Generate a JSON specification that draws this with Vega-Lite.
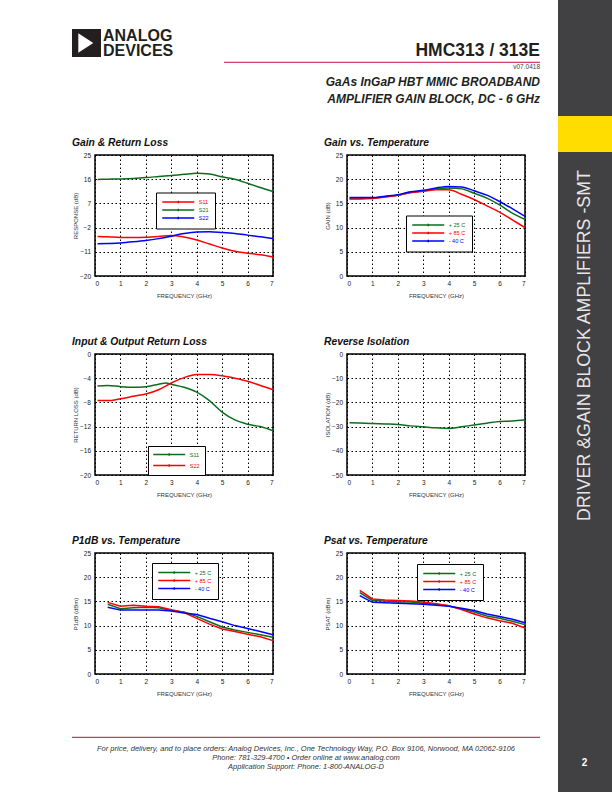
{
  "$schema": "https://vega.github.io/schema/vega-lite/v6.json",
  "padding": 0,
  "autosize": {"type": "pad"},
  "background": "white",
  "config": {
    "font": "Liberation Sans",
    "view": {"stroke": null},
    "axis": {
      "grid": true, "gridColor": "#000000", "gridDash": [1.5, 2.5], "gridWidth": 1, "gridOpacity": 1,
      "domain": false, "ticks": false, "tickSize": 0,
      "labelFont": "Liberation Sans", "labelFontSize": 6.5, "labelColor": "#222222", "labelPadding": 4.5,
      "titleFont": "Liberation Sans", "titleFontSize": 6, "titleFontWeight": "normal", "titleColor": "#333333"
    },
    "axisX": {"titleY": 19.5, "titleBaseline": "middle"},
    "axisY": {"titleX": -20, "titleBaseline": "middle"},
    "title": {"anchor": "start", "frame": "group", "dx": -23, "fontSize": 10.3, "fontWeight": "bold", "fontStyle": "italic", "color": "#111111", "offset": 4, "baseline": "alphabetic"},
    "legend": {
      "orient": "none", "title": null, "direction": "vertical",
      "symbolType": "M-6.4,0H6.4M0,-0.5V0.5", "symbolSize": 25, "symbolStrokeWidth": 1.5,
      "symbolOffset": 12.75, "labelOffset": 17, "labelFontSize": 5.5, "labelFont": "Liberation Sans",
      "rowPadding": -4.8, "padding": 6, "fillColor": "white", "strokeColor": "black"
    }
  },
  "datasets": {
    "gain_rl": [
      {"freq": 0.1, "db": -5.3, "trace": "S11"}, {"freq": 0.5, "db": -5.4, "trace": "S11"}, {"freq": 1, "db": -5.7, "trace": "S11"}, {"freq": 1.5, "db": -5.7, "trace": "S11"}, {"freq": 2, "db": -5.6, "trace": "S11"}, {"freq": 2.5, "db": -5.3, "trace": "S11"}, {"freq": 3, "db": -4.9, "trace": "S11"}, {"freq": 3.5, "db": -5.5, "trace": "S11"}, {"freq": 4, "db": -6.6, "trace": "S11"}, {"freq": 4.5, "db": -8.1, "trace": "S11"}, {"freq": 5, "db": -9.6, "trace": "S11"}, {"freq": 5.5, "db": -10.8, "trace": "S11"}, {"freq": 6, "db": -11.5, "trace": "S11"}, {"freq": 6.5, "db": -12.1, "trace": "S11"}, {"freq": 7, "db": -12.9, "trace": "S11"},
      {"freq": 0.1, "db": 15.9, "trace": "S21"}, {"freq": 0.5, "db": 16.0, "trace": "S21"}, {"freq": 1, "db": 16.1, "trace": "S21"}, {"freq": 1.5, "db": 16.3, "trace": "S21"}, {"freq": 2, "db": 16.6, "trace": "S21"}, {"freq": 2.5, "db": 17.0, "trace": "S21"}, {"freq": 3, "db": 17.4, "trace": "S21"}, {"freq": 3.5, "db": 17.8, "trace": "S21"}, {"freq": 4, "db": 18.2, "trace": "S21"}, {"freq": 4.5, "db": 17.9, "trace": "S21"}, {"freq": 5, "db": 16.9, "trace": "S21"}, {"freq": 5.5, "db": 16.0, "trace": "S21"}, {"freq": 6, "db": 14.5, "trace": "S21"}, {"freq": 6.5, "db": 12.9, "trace": "S21"}, {"freq": 7, "db": 11.4, "trace": "S21"},
      {"freq": 0.1, "db": -8.0, "trace": "S22"}, {"freq": 0.5, "db": -7.9, "trace": "S22"}, {"freq": 1, "db": -7.7, "trace": "S22"}, {"freq": 1.5, "db": -7.3, "trace": "S22"}, {"freq": 2, "db": -6.8, "trace": "S22"}, {"freq": 2.5, "db": -6.1, "trace": "S22"}, {"freq": 3, "db": -5.2, "trace": "S22"}, {"freq": 3.5, "db": -4.2, "trace": "S22"}, {"freq": 4, "db": -3.6, "trace": "S22"}, {"freq": 4.5, "db": -3.5, "trace": "S22"}, {"freq": 5, "db": -3.8, "trace": "S22"}, {"freq": 5.5, "db": -4.2, "trace": "S22"}, {"freq": 6, "db": -4.8, "trace": "S22"}, {"freq": 6.5, "db": -5.4, "trace": "S22"}, {"freq": 7, "db": -6.1, "trace": "S22"}
    ],
    "gain_temp": [
      {"freq": 0.1, "db": 16.0, "trace": "+ 25 C"}, {"freq": 0.5, "db": 16.0, "trace": "+ 25 C"}, {"freq": 1, "db": 16.1, "trace": "+ 25 C"}, {"freq": 1.5, "db": 16.4, "trace": "+ 25 C"}, {"freq": 2, "db": 16.7, "trace": "+ 25 C"}, {"freq": 2.5, "db": 17.3, "trace": "+ 25 C"}, {"freq": 3, "db": 17.6, "trace": "+ 25 C"}, {"freq": 3.5, "db": 18.0, "trace": "+ 25 C"}, {"freq": 4, "db": 18.2, "trace": "+ 25 C"}, {"freq": 4.5, "db": 18.0, "trace": "+ 25 C"}, {"freq": 5, "db": 17.1, "trace": "+ 25 C"}, {"freq": 5.5, "db": 16.1, "trace": "+ 25 C"}, {"freq": 6, "db": 14.7, "trace": "+ 25 C"}, {"freq": 6.5, "db": 13.0, "trace": "+ 25 C"}, {"freq": 7, "db": 11.7, "trace": "+ 25 C"},
      {"freq": 0.1, "db": 15.9, "trace": "+ 85 C"}, {"freq": 0.5, "db": 15.9, "trace": "+ 85 C"}, {"freq": 1, "db": 16.0, "trace": "+ 85 C"}, {"freq": 1.5, "db": 16.3, "trace": "+ 85 C"}, {"freq": 2, "db": 16.7, "trace": "+ 85 C"}, {"freq": 2.5, "db": 17.2, "trace": "+ 85 C"}, {"freq": 3, "db": 17.5, "trace": "+ 85 C"}, {"freq": 3.5, "db": 17.8, "trace": "+ 85 C"}, {"freq": 4, "db": 17.8, "trace": "+ 85 C"}, {"freq": 4.5, "db": 16.9, "trace": "+ 85 C"}, {"freq": 5, "db": 15.8, "trace": "+ 85 C"}, {"freq": 5.5, "db": 14.5, "trace": "+ 85 C"}, {"freq": 6, "db": 13.2, "trace": "+ 85 C"}, {"freq": 6.5, "db": 11.6, "trace": "+ 85 C"}, {"freq": 7, "db": 10.0, "trace": "+ 85 C"},
      {"freq": 0.1, "db": 16.2, "trace": "- 40 C"}, {"freq": 0.5, "db": 16.2, "trace": "- 40 C"}, {"freq": 1, "db": 16.2, "trace": "- 40 C"}, {"freq": 1.5, "db": 16.5, "trace": "- 40 C"}, {"freq": 2, "db": 16.8, "trace": "- 40 C"}, {"freq": 2.5, "db": 17.4, "trace": "- 40 C"}, {"freq": 3, "db": 17.7, "trace": "- 40 C"}, {"freq": 3.5, "db": 18.2, "trace": "- 40 C"}, {"freq": 4, "db": 18.5, "trace": "- 40 C"}, {"freq": 4.5, "db": 18.4, "trace": "- 40 C"}, {"freq": 5, "db": 17.6, "trace": "- 40 C"}, {"freq": 5.5, "db": 16.7, "trace": "- 40 C"}, {"freq": 6, "db": 15.4, "trace": "- 40 C"}, {"freq": 6.5, "db": 13.9, "trace": "- 40 C"}, {"freq": 7, "db": 12.3, "trace": "- 40 C"}
    ],
    "return_loss": [
      {"freq": 0.1, "db": -5.3, "trace": "S11"}, {"freq": 0.5, "db": -5.2, "trace": "S11"}, {"freq": 1, "db": -5.4, "trace": "S11"}, {"freq": 1.5, "db": -5.5, "trace": "S11"}, {"freq": 2, "db": -5.4, "trace": "S11"}, {"freq": 2.5, "db": -5.0, "trace": "S11"}, {"freq": 2.8, "db": -4.8, "trace": "S11"}, {"freq": 3, "db": -5.0, "trace": "S11"}, {"freq": 3.5, "db": -5.5, "trace": "S11"}, {"freq": 4, "db": -6.3, "trace": "S11"}, {"freq": 4.5, "db": -7.7, "trace": "S11"}, {"freq": 5, "db": -9.6, "trace": "S11"}, {"freq": 5.5, "db": -10.9, "trace": "S11"}, {"freq": 6, "db": -11.6, "trace": "S11"}, {"freq": 6.5, "db": -12.0, "trace": "S11"}, {"freq": 7, "db": -12.7, "trace": "S11"},
      {"freq": 0.1, "db": -7.7, "trace": "S22"}, {"freq": 0.5, "db": -7.7, "trace": "S22"}, {"freq": 1, "db": -7.4, "trace": "S22"}, {"freq": 1.5, "db": -7.0, "trace": "S22"}, {"freq": 2, "db": -6.6, "trace": "S22"}, {"freq": 2.5, "db": -5.9, "trace": "S22"}, {"freq": 3, "db": -4.8, "trace": "S22"}, {"freq": 3.5, "db": -3.9, "trace": "S22"}, {"freq": 4, "db": -3.4, "trace": "S22"}, {"freq": 4.5, "db": -3.4, "trace": "S22"}, {"freq": 5, "db": -3.6, "trace": "S22"}, {"freq": 5.5, "db": -4.0, "trace": "S22"}, {"freq": 6, "db": -4.5, "trace": "S22"}, {"freq": 6.5, "db": -5.2, "trace": "S22"}, {"freq": 7, "db": -5.9, "trace": "S22"}
    ],
    "isolation": [
      {"freq": 0.1, "db": -28.4}, {"freq": 0.5, "db": -28.5}, {"freq": 1, "db": -28.7}, {"freq": 1.5, "db": -28.9}, {"freq": 2, "db": -29.1}, {"freq": 2.5, "db": -29.7}, {"freq": 3, "db": -30.1}, {"freq": 3.5, "db": -30.5}, {"freq": 4, "db": -30.8}, {"freq": 4.5, "db": -30.1}, {"freq": 5, "db": -29.3}, {"freq": 5.5, "db": -28.6}, {"freq": 6, "db": -27.9}, {"freq": 6.5, "db": -27.7}, {"freq": 7, "db": -27.2}
    ],
    "p1db": [
      {"freq": 0.5, "dbm": 14.4, "trace": "+ 25 C"}, {"freq": 1, "dbm": 13.5, "trace": "+ 25 C"}, {"freq": 1.5, "dbm": 13.7, "trace": "+ 25 C"}, {"freq": 2, "dbm": 13.8, "trace": "+ 25 C"}, {"freq": 2.5, "dbm": 13.7, "trace": "+ 25 C"}, {"freq": 3, "dbm": 13.1, "trace": "+ 25 C"}, {"freq": 3.5, "dbm": 12.8, "trace": "+ 25 C"}, {"freq": 4, "dbm": 11.9, "trace": "+ 25 C"}, {"freq": 4.5, "dbm": 10.8, "trace": "+ 25 C"}, {"freq": 5, "dbm": 9.7, "trace": "+ 25 C"}, {"freq": 5.5, "dbm": 9.1, "trace": "+ 25 C"}, {"freq": 6, "dbm": 8.6, "trace": "+ 25 C"}, {"freq": 6.5, "dbm": 8.1, "trace": "+ 25 C"}, {"freq": 7, "dbm": 7.6, "trace": "+ 25 C"},
      {"freq": 0.5, "dbm": 14.8, "trace": "+ 85 C"}, {"freq": 1, "dbm": 14.0, "trace": "+ 85 C"}, {"freq": 1.5, "dbm": 14.2, "trace": "+ 85 C"}, {"freq": 2, "dbm": 14.0, "trace": "+ 85 C"}, {"freq": 2.5, "dbm": 13.9, "trace": "+ 85 C"}, {"freq": 3, "dbm": 13.3, "trace": "+ 85 C"}, {"freq": 3.5, "dbm": 12.7, "trace": "+ 85 C"}, {"freq": 4, "dbm": 11.5, "trace": "+ 85 C"}, {"freq": 4.5, "dbm": 10.3, "trace": "+ 85 C"}, {"freq": 5, "dbm": 9.3, "trace": "+ 85 C"}, {"freq": 5.5, "dbm": 8.8, "trace": "+ 85 C"}, {"freq": 6, "dbm": 8.2, "trace": "+ 85 C"}, {"freq": 6.5, "dbm": 7.7, "trace": "+ 85 C"}, {"freq": 7, "dbm": 6.9, "trace": "+ 85 C"},
      {"freq": 0.5, "dbm": 13.8, "trace": "- 40 C"}, {"freq": 1, "dbm": 13.2, "trace": "- 40 C"}, {"freq": 1.5, "dbm": 13.2, "trace": "- 40 C"}, {"freq": 2, "dbm": 13.2, "trace": "- 40 C"}, {"freq": 2.5, "dbm": 13.2, "trace": "- 40 C"}, {"freq": 3, "dbm": 13.0, "trace": "- 40 C"}, {"freq": 3.5, "dbm": 12.6, "trace": "- 40 C"}, {"freq": 4, "dbm": 12.3, "trace": "- 40 C"}, {"freq": 4.5, "dbm": 11.5, "trace": "- 40 C"}, {"freq": 5, "dbm": 10.8, "trace": "- 40 C"}, {"freq": 5.5, "dbm": 10.0, "trace": "- 40 C"}, {"freq": 6, "dbm": 9.4, "trace": "- 40 C"}, {"freq": 6.5, "dbm": 8.8, "trace": "- 40 C"}, {"freq": 7, "dbm": 8.1, "trace": "- 40 C"}
    ],
    "psat": [
      {"freq": 0.5, "dbm": 16.8, "trace": "+ 25 C"}, {"freq": 1, "dbm": 15.2, "trace": "+ 25 C"}, {"freq": 1.5, "dbm": 15.1, "trace": "+ 25 C"}, {"freq": 2, "dbm": 14.9, "trace": "+ 25 C"}, {"freq": 2.5, "dbm": 14.9, "trace": "+ 25 C"}, {"freq": 3, "dbm": 14.6, "trace": "+ 25 C"}, {"freq": 3.5, "dbm": 14.4, "trace": "+ 25 C"}, {"freq": 4, "dbm": 14.1, "trace": "+ 25 C"}, {"freq": 4.5, "dbm": 13.4, "trace": "+ 25 C"}, {"freq": 5, "dbm": 12.8, "trace": "+ 25 C"}, {"freq": 5.5, "dbm": 12.0, "trace": "+ 25 C"}, {"freq": 6, "dbm": 11.5, "trace": "+ 25 C"}, {"freq": 6.5, "dbm": 10.9, "trace": "+ 25 C"}, {"freq": 7, "dbm": 10.2, "trace": "+ 25 C"},
      {"freq": 0.5, "dbm": 17.3, "trace": "+ 85 C"}, {"freq": 1, "dbm": 15.5, "trace": "+ 85 C"}, {"freq": 1.5, "dbm": 15.3, "trace": "+ 85 C"}, {"freq": 2, "dbm": 15.2, "trace": "+ 85 C"}, {"freq": 2.5, "dbm": 15.1, "trace": "+ 85 C"}, {"freq": 3, "dbm": 14.9, "trace": "+ 85 C"}, {"freq": 3.5, "dbm": 14.5, "trace": "+ 85 C"}, {"freq": 4, "dbm": 14.1, "trace": "+ 85 C"}, {"freq": 4.5, "dbm": 13.3, "trace": "+ 85 C"}, {"freq": 5, "dbm": 12.4, "trace": "+ 85 C"}, {"freq": 5.5, "dbm": 11.6, "trace": "+ 85 C"}, {"freq": 6, "dbm": 11.0, "trace": "+ 85 C"}, {"freq": 6.5, "dbm": 10.5, "trace": "+ 85 C"}, {"freq": 7, "dbm": 9.5, "trace": "+ 85 C"},
      {"freq": 0.5, "dbm": 16.2, "trace": "- 40 C"}, {"freq": 1, "dbm": 14.8, "trace": "- 40 C"}, {"freq": 1.5, "dbm": 14.7, "trace": "- 40 C"}, {"freq": 2, "dbm": 14.6, "trace": "- 40 C"}, {"freq": 2.5, "dbm": 14.5, "trace": "- 40 C"}, {"freq": 3, "dbm": 14.4, "trace": "- 40 C"}, {"freq": 3.5, "dbm": 14.2, "trace": "- 40 C"}, {"freq": 4, "dbm": 14.0, "trace": "- 40 C"}, {"freq": 4.5, "dbm": 13.6, "trace": "- 40 C"}, {"freq": 5, "dbm": 13.1, "trace": "- 40 C"}, {"freq": 5.5, "dbm": 12.4, "trace": "- 40 C"}, {"freq": 6, "dbm": 11.9, "trace": "- 40 C"}, {"freq": 6.5, "dbm": 11.3, "trace": "- 40 C"}, {"freq": 7, "dbm": 10.6, "trace": "- 40 C"}
    ]
  },
  "columns": 3,
  "spacing": {"row": 78, "column": 74},
  "bounds": "flush",
  "resolve": {"scale": {"x": "independent", "y": "independent", "color": "independent"}, "legend": {"color": "independent"}, "axis": {"x": "independent", "y": "independent"}},
  "concat": [
    {
      "width": 21, "height": 77,
      "data": {"values": [{}]},
      "layer": [
        {"mark": {"type": "rect", "color": "#414042"},
         "encoding": {"x": {"datum": 558, "type": "quantitative", "scale": {"domain": [0, 612], "range": [0, 612], "nice": false, "zero": false}, "axis": null},
                      "x2": {"datum": 612},
                      "y": {"datum": 0, "type": "quantitative", "scale": {"domain": [0, 792], "range": [0, 792], "nice": false, "zero": false}, "axis": null},
                      "y2": {"datum": 792}}},
        {"mark": {"type": "rect", "color": "#ffdd00"},
         "encoding": {"x": {"datum": 558, "type": "quantitative"}, "x2": {"datum": 612}, "y": {"datum": 116, "type": "quantitative"}, "y2": {"datum": 152}}},
        {"mark": {"type": "text", "text": "DRIVER &GAIN BLOCK AMPLIFIERS -SMT", "angle": 270, "align": "center", "baseline": "middle", "fontSize": 17.8, "color": "#e6e6e6"},
         "encoding": {"x": {"datum": 585, "type": "quantitative"}, "y": {"datum": 345.5, "type": "quantitative"}}},
        {"mark": {"type": "text", "text": "2", "align": "center", "baseline": "middle", "fontSize": 10, "fontWeight": "bold", "color": "#ffffff"},
         "encoding": {"x": {"datum": 584.6, "type": "quantitative"}, "y": {"datum": 763, "type": "quantitative"}}},
        {"mark": {"type": "rect", "color": "#231f20"},
         "encoding": {"x": {"datum": 72, "type": "quantitative"}, "x2": {"datum": 101}, "y": {"datum": 29, "type": "quantitative"}, "y2": {"datum": 57}}},
        {"mark": {"type": "point", "shape": "M-0.67,-0.97L0.83,0L-0.67,0.97Z", "filled": true, "color": "white", "opacity": 1, "size": 400},
         "encoding": {"x": {"datum": 85, "type": "quantitative"}, "y": {"datum": 43, "type": "quantitative"}}},
        {"mark": {"type": "text", "text": "ANALOG", "align": "left", "baseline": "alphabetic", "fontSize": 16, "fontWeight": "bold", "color": "#231f20"},
         "encoding": {"x": {"datum": 103, "type": "quantitative"}, "y": {"datum": 40.7, "type": "quantitative"}}},
        {"mark": {"type": "text", "text": "DEVICES", "align": "left", "baseline": "alphabetic", "fontSize": 16, "fontWeight": "bold", "color": "#231f20"},
         "encoding": {"x": {"datum": 103, "type": "quantitative"}, "y": {"datum": 56.3, "type": "quantitative"}}},
        {"mark": {"type": "text", "text": "HMC313 / 313E", "align": "right", "baseline": "alphabetic", "fontSize": 17.5, "fontWeight": "bold", "color": "#231f20"},
         "encoding": {"x": {"datum": 540, "type": "quantitative"}, "y": {"datum": 56, "type": "quantitative"}}},
        {"mark": {"type": "rule", "color": "#c0143c", "strokeWidth": 1},
         "encoding": {"x": {"datum": 224, "type": "quantitative"}, "x2": {"datum": 540}, "y": {"datum": 62.3, "type": "quantitative"}}},
        {"mark": {"type": "text", "text": "v07.0418", "align": "right", "baseline": "alphabetic", "fontSize": 6.5, "color": "#444444"},
         "encoding": {"x": {"datum": 540, "type": "quantitative"}, "y": {"datum": 68.8, "type": "quantitative"}}},
        {"mark": {"type": "text", "text": "GaAs InGaP HBT MMIC BROADBAND", "align": "right", "baseline": "alphabetic", "fontSize": 12, "fontWeight": "bold", "fontStyle": "italic", "color": "#231f20"},
         "encoding": {"x": {"datum": 540, "type": "quantitative"}, "y": {"datum": 85.7, "type": "quantitative"}}},
        {"mark": {"type": "text", "text": "AMPLIFIER GAIN BLOCK, DC - 6 GHz", "align": "right", "baseline": "alphabetic", "fontSize": 12, "fontWeight": "bold", "fontStyle": "italic", "color": "#231f20"},
         "encoding": {"x": {"datum": 540, "type": "quantitative"}, "y": {"datum": 103, "type": "quantitative"}}},
        {"mark": {"type": "rule", "color": "#a8163a", "strokeWidth": 1},
         "encoding": {"x": {"datum": 72, "type": "quantitative"}, "x2": {"datum": 540}, "y": {"datum": 737.3, "type": "quantitative"}}},
        {"mark": {"type": "text", "text": "For price, delivery, and to place orders: Analog Devices, Inc., One Technology Way, P.O. Box 9106, Norwood, MA 02062-9106", "align": "center", "baseline": "alphabetic", "fontSize": 7.5, "fontStyle": "italic", "color": "#333333"},
         "encoding": {"x": {"datum": 306, "type": "quantitative"}, "y": {"datum": 750.5, "type": "quantitative"}}},
        {"mark": {"type": "text", "text": "Phone: 781-329-4700 • Order online at www.analog.com", "align": "center", "baseline": "alphabetic", "fontSize": 7.5, "fontStyle": "italic", "color": "#333333"},
         "encoding": {"x": {"datum": 306, "type": "quantitative"}, "y": {"datum": 759.5, "type": "quantitative"}}},
        {"mark": {"type": "text", "text": "Application Support: Phone: 1-800-ANALOG-D", "align": "center", "baseline": "alphabetic", "fontSize": 7.5, "fontStyle": "italic", "color": "#333333"},
         "encoding": {"x": {"datum": 306, "type": "quantitative"}, "y": {"datum": 768.5, "type": "quantitative"}}}
      ]
    },
    {"width": 1, "height": 1, "data": {"values": []}, "mark": "point"},
    {"width": 1, "height": 1, "data": {"values": []}, "mark": "point"},
    {"width": 21, "height": 121, "data": {"values": []}, "mark": "point"},
    {
      "width": 178, "height": 121,
      "view": {"stroke": "black", "strokeWidth": 1.5},
      "title": {"text": "Gain & Return Loss"},
      "data": {"name": "gain_rl"},
      "mark": {"type": "line", "strokeWidth": 1.5, "interpolate": "monotone"},
      "encoding": {
        "x": {"field": "freq", "type": "quantitative", "scale": {"domain": [0, 7], "nice": false}, "axis": {"title": "FREQUENCY (GHz)", "values": [0, 1, 2, 3, 4, 5, 6, 7]}},
        "y": {"field": "db", "type": "quantitative", "scale": {"domain": [-20, 25], "nice": false, "zero": false}, "axis": {"title": "RESPONSE (dB)", "values": [-20, -11, -2, 7, 16, 25]}},
        "color": {"field": "trace", "type": "nominal", "scale": {"domain": ["S11", "S21", "S22"], "range": ["#ff0000", "#0a6e1e", "#0000ff"]},
                  "legend": {"legendX": 61, "legendY": 37.5,
                             "encode": {"labels": {"update": {"fill": {"signal": "datum.label === 'S11' ? '#ff0000' : datum.label === 'S21' ? '#0a6e1e' : '#0000ff'"}}}}}}
      }
    },
    {
      "width": 178, "height": 121,
      "view": {"stroke": "black", "strokeWidth": 1.5},
      "title": {"text": "Gain vs. Temperature"},
      "data": {"name": "gain_temp"},
      "mark": {"type": "line", "strokeWidth": 1.5, "interpolate": "monotone"},
      "encoding": {
        "x": {"field": "freq", "type": "quantitative", "scale": {"domain": [0, 7], "nice": false}, "axis": {"title": "FREQUENCY (GHz)", "values": [0, 1, 2, 3, 4, 5, 6, 7]}},
        "y": {"field": "db", "type": "quantitative", "scale": {"domain": [0, 25], "nice": false}, "axis": {"title": "GAIN (dB)", "values": [0, 5, 10, 15, 20, 25]}},
        "color": {"field": "trace", "type": "nominal", "scale": {"domain": ["+ 25 C", "+ 85 C", "- 40 C"], "range": ["#0a6e1e", "#ff0000", "#0000ff"]},
                  "legend": {"legendX": 59, "legendY": 60.5,
                             "encode": {"labels": {"update": {"fill": {"signal": "datum.label === '+ 25 C' ? '#0a6e1e' : datum.label === '+ 85 C' ? '#ff0000' : '#0000ff'"}}}}}}
      }
    },
    {"width": 21, "height": 121, "data": {"values": []}, "mark": "point"},
    {
      "width": 178, "height": 121,
      "view": {"stroke": "black", "strokeWidth": 1.5},
      "title": {"text": "Input & Output Return Loss"},
      "data": {"name": "return_loss"},
      "mark": {"type": "line", "strokeWidth": 1.5, "interpolate": "monotone"},
      "encoding": {
        "x": {"field": "freq", "type": "quantitative", "scale": {"domain": [0, 7], "nice": false}, "axis": {"title": "FREQUENCY (GHz)", "values": [0, 1, 2, 3, 4, 5, 6, 7]}},
        "y": {"field": "db", "type": "quantitative", "scale": {"domain": [-20, 0], "nice": false}, "axis": {"title": "RETURN LOSS (dB)", "values": [-20, -16, -12, -8, -4, 0]}},
        "color": {"field": "trace", "type": "nominal", "scale": {"domain": ["S11", "S22"], "range": ["#0a6e1e", "#ff0000"]},
                  "legend": {"legendX": 53, "legendY": 92, "rowPadding": 2, "padding": 5,
                             "encode": {"labels": {"update": {"fill": {"signal": "datum.label === 'S11' ? '#0a6e1e' : '#ff0000'"}}}}}}
      }
    },
    {
      "width": 178, "height": 121,
      "view": {"stroke": "black", "strokeWidth": 1.5},
      "title": {"text": "Reverse Isolation"},
      "data": {"name": "isolation"},
      "mark": {"type": "line", "strokeWidth": 1.5, "interpolate": "monotone", "color": "#0a6e1e"},
      "encoding": {
        "x": {"field": "freq", "type": "quantitative", "scale": {"domain": [0, 7], "nice": false}, "axis": {"title": "FREQUENCY (GHz)", "values": [0, 1, 2, 3, 4, 5, 6, 7]}},
        "y": {"field": "db", "type": "quantitative", "scale": {"domain": [-50, 0], "nice": false}, "axis": {"title": "ISOLATION (dB)", "values": [-50, -40, -30, -20, -10, 0]}}
      }
    },
    {"width": 21, "height": 121, "data": {"values": []}, "mark": "point"},
    {
      "width": 178, "height": 121,
      "view": {"stroke": "black", "strokeWidth": 1.5},
      "title": {"text": "P1dB vs. Temperature"},
      "data": {"name": "p1db"},
      "mark": {"type": "line", "strokeWidth": 1.5},
      "encoding": {
        "x": {"field": "freq", "type": "quantitative", "scale": {"domain": [0, 7], "nice": false}, "axis": {"title": "FREQUENCY (GHz)", "values": [0, 1, 2, 3, 4, 5, 6, 7]}},
        "y": {"field": "dbm", "type": "quantitative", "scale": {"domain": [0, 25], "nice": false}, "axis": {"title": "P1dB (dBm)", "values": [0, 5, 10, 15, 20, 25]}},
        "color": {"field": "trace", "type": "nominal", "scale": {"domain": ["+ 25 C", "+ 85 C", "- 40 C"], "range": ["#0a6e1e", "#ff0000", "#0000ff"]},
                  "legend": {"legendX": 57, "legendY": 10,
                             "encode": {"labels": {"update": {"fill": {"signal": "datum.label === '+ 25 C' ? '#0a6e1e' : datum.label === '+ 85 C' ? '#ff0000' : '#0000ff'"}}}}}}
      }
    },
    {
      "width": 178, "height": 121,
      "view": {"stroke": "black", "strokeWidth": 1.5},
      "title": {"text": "Psat vs. Temperature"},
      "data": {"name": "psat"},
      "mark": {"type": "line", "strokeWidth": 1.5},
      "encoding": {
        "x": {"field": "freq", "type": "quantitative", "scale": {"domain": [0, 7], "nice": false}, "axis": {"title": "FREQUENCY (GHz)", "values": [0, 1, 2, 3, 4, 5, 6, 7]}},
        "y": {"field": "dbm", "type": "quantitative", "scale": {"domain": [0, 25], "nice": false}, "axis": {"title": "PSAT (dBm)", "values": [0, 5, 10, 15, 20, 25]}},
        "color": {"field": "trace", "type": "nominal", "scale": {"domain": ["+ 25 C", "+ 85 C", "- 40 C"], "range": ["#0a6e1e", "#ff0000", "#0000ff"]},
                  "legend": {"legendX": 70, "legendY": 11,
                             "encode": {"labels": {"update": {"fill": {"signal": "datum.label === '+ 25 C' ? '#0a6e1e' : datum.label === '+ 85 C' ? '#ff0000' : '#0000ff'"}}}}}}
      }
    }
  ]
}
